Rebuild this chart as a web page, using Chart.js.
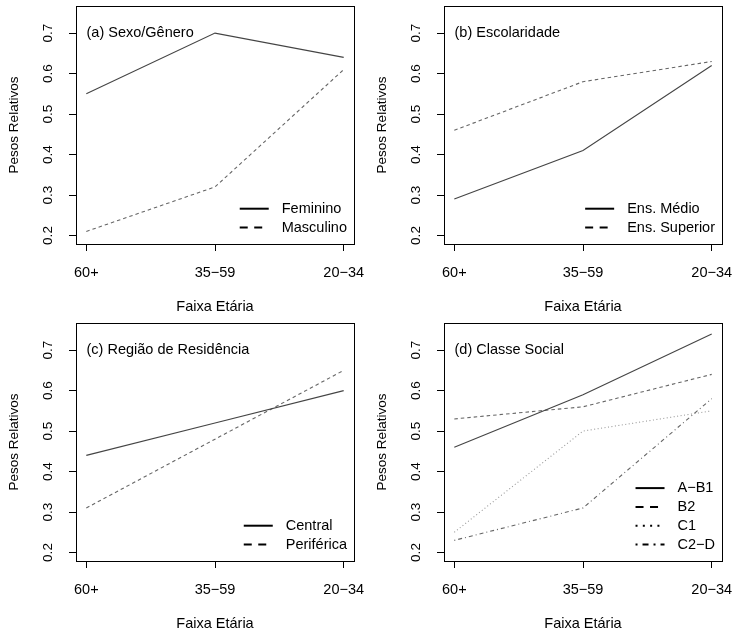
<!DOCTYPE html>
<html>
<head>
<meta charset="utf-8">
<title>Pesos Relativos por Faixa Etária</title>
<script src="https://cdn.jsdelivr.net/npm/chart.js@4.4.1/dist/chart.umd.min.js"></script>
<style>
  html, body { margin: 0; padding: 0; background: #fff; }
  #wrap { position: relative; width: 733px; height: 634px; overflow: hidden; }
  .panel { position: absolute; width: 366px; height: 317px; }
</style>
</head>
<body>
<div id="wrap">
  <div class="panel" style="left:0;top:0"><canvas id="chartA" width="366" height="317"></canvas></div>
  <div class="panel" style="left:368px;top:0"><canvas id="chartB" width="366" height="317"></canvas></div>
  <div class="panel" style="left:0;top:317px"><canvas id="chartC" width="366" height="317"></canvas></div>
  <div class="panel" style="left:368px;top:317px"><canvas id="chartD" width="366" height="317"></canvas></div>
</div>
<script>
// x categories and y ticks
const ageGroups = ['60+', '35−59', '20−34'];
const yTicks = [0.2, 0.3, 0.4, 0.5, 0.6, 0.7];

// (a) Sexo/Gênero
const feminino = [0.55, 0.70, 0.64];
const masculino = [0.21, 0.32, 0.61];

// (b) Escolaridade
const ensMedio = [0.29, 0.41, 0.62];
const ensSuperior = [0.46, 0.58, 0.63];

// (c) Região de Residência
const central = [0.44, 0.52, 0.60];
const periferica = [0.31, 0.48, 0.65];

// (d) Classe Social
const classeAB1 = [0.46, 0.59, 0.74];
const classeB2 = [0.53, 0.56, 0.64];
const classeC1 = [0.25, 0.50, 0.55];
const classeC2D = [0.23, 0.31, 0.58];

const FONT = "'Liberation Sans', Arial, Helvetica, sans-serif";
Chart.defaults.font.family = FONT;
Chart.defaults.color = '#000';

// line types like R's lty 1..4
const lineStyles = {
    solid:   { color: '#444', dash: [],           legendDash: [] },
    dashed:  { color: '#666', dash: [3.5, 3],     legendDash: [8, 6.5] },
    dotted:  { color: '#999', dash: [1, 2.5],     legendDash: [2, 5.3] },
    dotdash: { color: '#666', dash: [1, 3, 4, 3], legendDash: [2, 5, 6, 5] }
};

function makeSeries(label, values, style) {
    const s = lineStyles[style];
    return {
        label: label,
        data: values.map((v, i) => ({ x: i + 1, y: v })),
        borderColor: s.color,
        borderWidth: 1.1,
        borderDash: s.dash,
        legendDash: s.legendDash,
        pointRadius: 0,
        tension: 0,
        fill: false
    };
}

// box, panel label and R-style legend inside plot
const rFrame = {
    id: 'rFrame',
    afterDatasetsDraw(chart, args, opts) {
        const ctx = chart.ctx;
        const a = chart.chartArea;
        ctx.save();
        ctx.strokeStyle = '#000';
        ctx.lineWidth = 1;
        ctx.setLineDash([]);
        ctx.strokeRect(Math.round(a.left) + 0.5, Math.round(a.top) + 0.5,
            Math.round(a.right) - Math.round(a.left), Math.round(a.bottom) - Math.round(a.top));

        // panel label
        ctx.font = '14.5px ' + FONT;
        ctx.fillStyle = '#000';
        ctx.textBaseline = 'middle';
        ctx.textAlign = 'left';
        const yTop = chart.scales.y.getPixelForValue(0.7);
        ctx.fillText(opts.title, a.left + 10.5, yTop);

        // legend
        const sets = chart.data.datasets;
        let maxW = 0;
        sets.forEach(d => { maxW = Math.max(maxW, ctx.measureText(d.label).width); });
        const textX = a.right - 7 - maxW;
        const lineEnd = textX - 13;
        const lineStart = lineEnd - 29;
        const n = sets.length;
        sets.forEach((d, i) => {
            const y = a.bottom - 16.5 - 18.8 * (n - 1 - i);
            ctx.beginPath();
            ctx.lineWidth = 2;
            ctx.strokeStyle = '#000';
            ctx.setLineDash(d.legendDash);
            ctx.moveTo(lineStart, y);
            ctx.lineTo(lineEnd, y);
            ctx.stroke();
            ctx.fillText(d.label, textX, y);
        });
        ctx.restore();
    }
};

function zeroPad(scale) {
    scale.paddingLeft = 0;
    scale.paddingRight = 0;
    scale.paddingTop = 0;
    scale.paddingBottom = 0;
}

function drawPanel(id, title, datasets) {
    const ctx = document.getElementById(id).getContext('2d');
    return new Chart(ctx, {
        type: 'line',
        data: { datasets: datasets },
        options: {
            responsive: false,
            animation: false,
            devicePixelRatio: 1,
            layout: { padding: { left: 0, right: 12, top: 6, bottom: 0 } },
            plugins: {
                legend: { display: false },
                tooltip: { enabled: false },
                rFrame: { title: title }
            },
            scales: {
                x: {
                    type: 'linear',
                    min: 0.92,
                    max: 3.08,
                    afterBuildTicks: s => { s.ticks = ageGroups.map((g, i) => ({ value: i + 1 })); },
                    afterFit: s => { s.height = 73; zeroPad(s); },
                    grid: { drawOnChartArea: false, drawTicks: true, tickLength: 7, tickColor: '#000', tickWidth: 1 },
                    border: { display: false },
                    ticks: {
                        autoSkip: false,
                        maxRotation: 0,
                        padding: 13,
                        font: { size: 14.5 },
                        callback: v => ageGroups[Math.round(v) - 1]
                    },
                    title: {
                        display: true,
                        text: 'Faixa Etária',
                        font: { size: 14.5 },
                        padding: { top: 0, bottom: 1.3 }
                    }
                },
                y: {
                    type: 'linear',
                    min: 0.179,
                    max: 0.767,
                    afterBuildTicks: s => { s.ticks = yTicks.map(v => ({ value: v })); },
                    afterFit: s => { s.width = 76; zeroPad(s); },
                    grid: { drawOnChartArea: false, drawTicks: true, tickLength: 7, tickColor: '#000', tickWidth: 1 },
                    border: { display: false },
                    ticks: {
                        minRotation: 90,
                        maxRotation: 90,
                        crossAlign: 'center',
                        padding: 11,
                        font: { size: 13.5 },
                        callback: v => v.toFixed(1)
                    },
                    title: {
                        display: true,
                        text: 'Pesos Relativos',
                        font: { size: 13.5 },
                        padding: { top: 6, bottom: 0 }
                    }
                }
            }
        },
        plugins: [rFrame]
    });
}

document.addEventListener('DOMContentLoaded', function() {
    drawPanel('chartA', '(a) Sexo/Gênero', [
        makeSeries('Feminino', feminino, 'solid'),
        makeSeries('Masculino', masculino, 'dashed')
    ]);
    drawPanel('chartB', '(b) Escolaridade', [
        makeSeries('Ens. Médio', ensMedio, 'solid'),
        makeSeries('Ens. Superior', ensSuperior, 'dashed')
    ]);
    drawPanel('chartC', '(c) Região de Residência', [
        makeSeries('Central', central, 'solid'),
        makeSeries('Periférica', periferica, 'dashed')
    ]);
    drawPanel('chartD', '(d) Classe Social', [
        makeSeries('A−B1', classeAB1, 'solid'),
        makeSeries('B2', classeB2, 'dashed'),
        makeSeries('C1', classeC1, 'dotted'),
        makeSeries('C2−D', classeC2D, 'dotdash')
    ]);
});
</script>
</body>
</html>
